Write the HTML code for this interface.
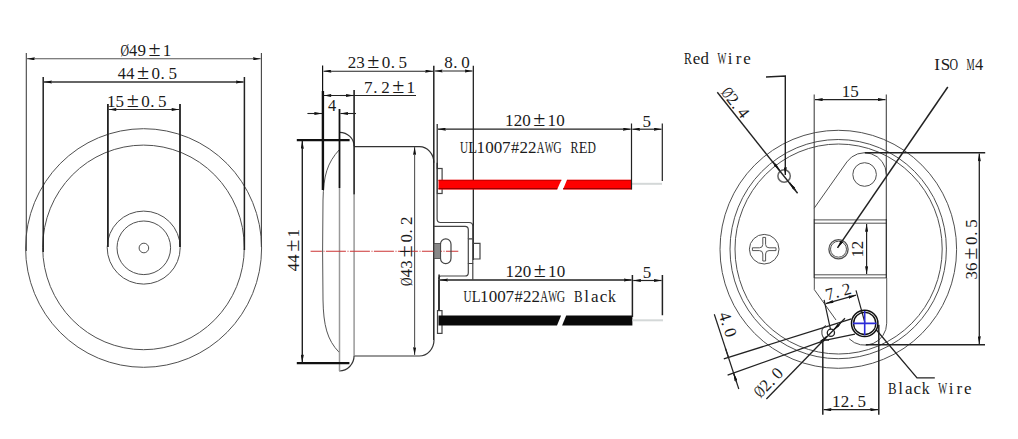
<!DOCTYPE html>
<html><head><meta charset="utf-8">
<style>
html,body{margin:0;padding:0;background:#fff;width:1018px;height:439px;overflow:hidden}
svg{display:block}
text{font-family:"Liberation Serif",serif}
</style></head>
<body>
<svg width="1018" height="439" viewBox="0 0 1018 439">
<defs>
<marker id="ar" viewBox="0 0 8 3.2" refX="8" refY="1.6" markerWidth="8" markerHeight="3.2" markerUnits="userSpaceOnUse" orient="auto-start-reverse">
<path d="M0 0 L8 1.6 L0 3.2 L1 1.6 Z" fill="#111"/>
</marker>
</defs>
<rect width="1018" height="439" fill="#fff"/>


<!-- ============ LEFT VIEW ============ -->
<g fill="none" stroke="#505050" stroke-width="1">
<ellipse cx="143.6" cy="248" rx="118" ry="119.3"/>
<ellipse cx="143.5" cy="247.4" rx="100.8" ry="102.3"/>
<circle cx="143.7" cy="247.6" r="36.5"/>
<circle cx="143.8" cy="247.8" r="26.8"/>
<circle cx="143.9" cy="248" r="4.8"/>
</g>
<g fill="none" stroke="#222" stroke-width="1.3">
<path d="M26.3 53 V251 M261.4 53 V247" stroke="#444" stroke-width="1.1"/>
<path d="M43.2 77 V252 M244.4 77 V250" stroke-width="1.5"/>
<path d="M107.9 104 V247 M180 104 V247" stroke-width="1.8"/>
</g>
<g fill="none" stroke="#333" stroke-width="1.1">
<path d="M27 58.8 H260.7" marker-start="url(#ar)" marker-end="url(#ar)" stroke="#555"/>
<path d="M44 82 H243.6" marker-start="url(#ar)" marker-end="url(#ar)" stroke-width="1.5"/>
<path d="M108.6 109.5 H179.3" marker-start="url(#ar)" marker-end="url(#ar)"/>
</g>

<!-- ============ MIDDLE VIEW ============ -->
<!-- body outline -->
<g fill="none" stroke="#333" stroke-width="1.2">
<path d="M354.2 146.7 H419.5 A14.5 16 0 0 1 433.8 162.7"/>
<path d="M354.2 356 H419.2 A14.8 16 0 0 0 434 340"/>
<path d="M339.6 132.3 A14.5 14 0 0 1 354.1 146.3"/>
<path d="M339.2 371 A14.8 15.4 0 0 0 354.1 355.6"/>
<path d="M339.5 149.5 C327 163, 323.5 176, 323 200 L322.6 251 L323 300 C323.5 325, 327 340, 339.3 352.5" stroke="#555" stroke-width="1"/>
<path d="M339.5 188 V371" stroke="#999" stroke-width="1.5"/>
<path d="M354.1 194.6 V355.6" stroke="#999" stroke-width="1.5"/>
<path d="M354.1 90 V194.6" stroke="#222" stroke-width="1.6"/>
<path d="M433.8 65.7 V340" stroke="#222" stroke-width="1.5"/>
</g>
<!-- dark ext lines -->
<g fill="none" stroke="#111">
<path d="M322.6 65.5 V91" stroke-width="1.2"/>
<path d="M322.9 91 V190" stroke-width="2.4"/>
<path d="M339.5 109 V188" stroke-width="1.8"/>
<path d="M296.8 140.1 H349.6 M296.8 363.2 H349.4" stroke-width="2.2"/>
<path d="M473.3 65.7 V260" stroke-width="1.2"/>
</g>
<!-- dims -->
<g fill="none" stroke="#222" stroke-width="1.1">
<path d="M323.5 71.2 H433" marker-start="url(#ar)" marker-end="url(#ar)"/>
<path d="M434.6 71 H472.5" marker-start="url(#ar)" marker-end="url(#ar)"/>
<path d="M416 95.5 H323.5" marker-end="url(#ar)"/>
<path d="M340 95.5 H353.6" marker-end="url(#ar)"/>
<path d="M307.4 113.5 H322" marker-end="url(#ar)"/>
<path d="M356 113.5 H340.4" marker-end="url(#ar)"/>
<path d="M302.3 141 V362.4" marker-start="url(#ar)" marker-end="url(#ar)" stroke-width="1.4"/>
<path d="M414.6 147 V355" marker-start="url(#ar)" marker-end="url(#ar)" stroke="#555"/>
</g>
<!-- centerline -->
<path d="M310.6 251.2 H458.3" stroke="#cc3535" stroke-width="1.1" stroke-dasharray="20 1.6 1 1.4" stroke-dashoffset="8.7" fill="none"/>
<!-- bracket -->
<g fill="none" stroke="#444" stroke-width="1.2">
<path d="M437.1 162.8 V219 Q437.1 222.5 440.6 222.5 H469 Q472.8 222.5 472.8 226.3 V238.8"/>
<path d="M434 226.4 H465 Q468.3 226.4 468.3 229.7 V238.8"/>
<path d="M468.3 238.8 H472.8 V263.5 H468.3 Z"/>
<path d="M472.8 243.4 H480 V259 H472.8"/>
<path d="M468.3 263.5 V272.7 Q468.3 276 465 276 H441 Q438.7 276 438.7 279"/>
<path d="M472.8 263.5 V279.6"/>
<rect x="437.3" y="168.5" width="4.8" height="25" />
<rect x="437.5" y="310.6" width="4.5" height="22.8" />
<rect x="440.5" y="238.8" width="10.5" height="24.9" rx="5.2" ry="5.5"/>
<path d="M438.7 279.6 V310.6"/>
</g>
<rect x="434" y="243.5" width="6.5" height="15" fill="#888" stroke="#444" stroke-width="0.8"/>
<!-- red wire -->
<g>
<path d="M438.5 179.8 H561.5 L557.1 189.4 H438.5 Z" fill="#ff0000"/>
<path d="M567 179.8 H631.5 V189.4 H563 Z" fill="#ff0000"/>
<path d="M438.5 180.4 H561.3 M567 180.4 H631.5" stroke="#c80000" stroke-width="1" fill="none"/>
<path d="M438.5 188.7 H557.3 M563.2 188.7 H631.5" stroke="#9a0000" stroke-width="1.3" fill="none"/>
<path d="M632 183.8 H662" stroke="#d4d8d8" stroke-width="2"/>
</g>
<!-- black wire -->
<g>
<path d="M438.5 315.6 H561.1 L557 325.5 H438.5 Z" fill="#0a0a0a"/>
<path d="M566.2 315.6 H632.4 V325.5 H562.1 Z" fill="#0a0a0a"/>
<path d="M632.4 320.3 H663" stroke="#d4d8d8" stroke-width="2"/>
</g>
<!-- wire dims -->
<g fill="none" stroke="#222" stroke-width="1.2">
<path d="M437.2 124 V168.5 M631.5 123.6 V189.5 M662.3 123.6 V180.9"/>
<path d="M438 129.2 H630.7" marker-start="url(#ar)" marker-end="url(#ar)"/>
<path d="M632.3 129.2 H661.5" marker-start="url(#ar)" marker-end="url(#ar)"/>
<path d="M439.1 274.6 V310.6 M632.4 275 V317 M662.4 275 V315.2" stroke-width="1.5"/>
<path d="M440 280 H631.6" marker-start="url(#ar)" marker-end="url(#ar)" stroke-width="1.5"/>
<path d="M633.2 280.5 H661.6" marker-start="url(#ar)" marker-end="url(#ar)"/>
</g>

<!-- ============ RIGHT VIEW ============ -->
<g fill="none" stroke="#505050" stroke-width="1">
<ellipse cx="838.3" cy="249.3" rx="118.3" ry="119"/>
<ellipse cx="838.2" cy="249.1" rx="108.2" ry="109.6"/>
<ellipse cx="838.6" cy="249" rx="103.6" ry="105"/>
<circle cx="764.2" cy="249.2" r="14.8"/>
<path d="M762.80 237.40 H765.60 V244.40 A3.4 3.4 0 0 0 769.00 247.80 H776.00 V250.60 H769.00 A3.4 3.4 0 0 0 765.60 254.00 V261.00 H762.80 V254.00 A3.4 3.4 0 0 0 759.40 250.60 H752.40 V247.80 H759.40 A3.4 3.4 0 0 0 762.80 244.40 Z" stroke="#555"/>
<circle cx="784.1" cy="176" r="6.2" stroke="#666" stroke-width="1.5"/>
<!-- tab -->
<path d="M814.2 208.2 L846.9 161.9 A21.7 21.7 0 0 1 886.3 174.4"/>
<circle cx="864.6" cy="174.5" r="11.8"/>
<path d="M814.2 219.9 H886.2 M814.2 223.2 H886.2 M814.2 274.8 H886.2 M814.2 277.9 H886.2"/>
<circle cx="838.5" cy="249.2" r="9.6" stroke-width="1.3"/>
<circle cx="838.5" cy="249.2" r="8" />
<!-- bracket lower -->
<path d="M814.3 278 V289.6 L836 320"/>
<path d="M886.7 278 V323.2 A22 22 0 0 1 849.2 338.8"/>
<!-- strip -->
<path d="M830.9 332.7 m-3.6 0 a3.6 3.6 0 1 0 7.2 0 a3.6 3.6 0 1 0 -7.2 0" stroke="#222" stroke-width="1.3"/>
<path d="M826 325.5 A8 8 0 0 0 829 340.5" stroke-width="1.1"/>
</g>
<g fill="none" stroke="#222" stroke-width="1.2">
<path d="M814.2 94.6 V219 M886.3 94.6 V219" stroke="#444" stroke-width="1.1"/>
<path d="M814.2 219 V278 M886.3 219 V278"/>
<path d="M815 99.6 H885.5" marker-start="url(#ar)" marker-end="url(#ar)"/>
<path d="M866.6 224 V274" marker-start="url(#ar)" marker-end="url(#ar)"/>
<path d="M947.8 87 L837.5 247.8" marker-end="url(#ar)" stroke-width="1.5"/>
<path d="M864.7 152.7 H985.2 M865.8 344.8 H985" stroke-width="1.6"/>
<path d="M979.3 153.5 V344" marker-start="url(#ar)" marker-end="url(#ar)" stroke-width="1.3"/>
<path d="M766 77 L785.3 76 V175" stroke-width="1.4" marker-end="url(#ar)"/>
<path d="M717.3 92.3 L797.6 193.3" stroke-width="1.4"/>
<path d="M773 162 L779.5 170.3" marker-end="url(#ar)" stroke-width="1.4"/>
<path d="M795.5 190.3 L789.5 182.7" marker-end="url(#ar)" stroke-width="1.4"/>
<!-- strip ext lines -->
<path d="M723.8 358.9 L851.4 318.8" stroke-width="1.3"/>
<path d="M727.6 375.2 L824.7 340.4 L855 334.2" stroke-width="1.3"/>
<!-- 4.0 dim line -->
<path d="M714.3 314.3 L738.8 389" stroke-width="1.2"/>
<path d="M725.4 348.1 L728.4 357.3 M736.6 382.3 L733.6 373.2" stroke-width="1.2" marker-end="url(#ar)"/>
<!-- Ø2.0 leader -->
<path d="M766.4 399 L845 318.3" stroke-width="1.3"/>
<path d="M820 343.2 L826.8 336.3" stroke-width="1.3" marker-end="url(#ar)"/>
<path d="M840.5 323 L833.4 330.2" stroke-width="1.2" marker-end="url(#ar)"/>
<!-- 7.2 -->
<path d="M824.1 299.9 L830.5 329.4 M856 290.4 L864.8 322.3" stroke-width="1.2"/>
<path d="M825.7 303.6 L856 295.2" marker-start="url(#ar)" marker-end="url(#ar)" stroke-width="1.2"/>
<!-- 12.5 -->
<path d="M822.8 339 V414.7 M878.8 324.7 V414.7" stroke-width="1.5"/>
<path d="M823.6 409.7 H878" marker-start="url(#ar)" marker-end="url(#ar)"/>
<!-- black wire leader -->
<path d="M876 329.5 L917 377.8 H934.8" stroke-width="1.3"/>
</g>
<!-- wire hole -->
<circle cx="864.7" cy="323.4" r="13.2" fill="none" stroke="#111" stroke-width="1.5"/>
<circle cx="864.7" cy="323.4" r="11.1" fill="none" stroke="#111" stroke-width="1.3"/>
<path d="M852.8 323.4 H876.5 M864.7 311.1 V335.2" stroke="#2b2bd8" stroke-width="1.6" fill="none"/>
<g transform="translate(120.40,55.90)" fill="#1a1a1a"><text transform="translate(4.25,0) scale(0.698,1)" x="-6.14" font-size="17">Ø</text><text transform="translate(12.75,0) scale(0.962,1)" x="-4.28" font-size="17">4</text><text transform="translate(21.25,0) scale(1.000,1)" x="-4.18" font-size="17">9</text><text transform="translate(34.00,0) scale(1.000,1)" x="-6.03" font-size="22">±</text><text transform="translate(46.75,0) scale(1.000,1)" x="-4.49" font-size="17">1</text></g>
<g transform="translate(117.60,79.00)" fill="#1a1a1a"><text transform="translate(4.25,0) scale(0.962,1)" x="-4.28" font-size="17">4</text><text transform="translate(12.75,0) scale(0.962,1)" x="-4.28" font-size="17">4</text><text transform="translate(25.50,0) scale(1.000,1)" x="-6.03" font-size="22">±</text><text transform="translate(38.25,0) scale(1.000,1)" x="-4.25" font-size="17">0</text><text transform="translate(45.05,0) scale(1.000,1)" x="-2.12" font-size="17">.</text><text transform="translate(55.25,0) scale(1.000,1)" x="-4.41" font-size="17">5</text></g>
<g transform="translate(107.20,106.90)" fill="#1a1a1a"><text transform="translate(4.25,0) scale(1.000,1)" x="-4.49" font-size="17">1</text><text transform="translate(12.75,0) scale(1.000,1)" x="-4.41" font-size="17">5</text><text transform="translate(25.50,0) scale(1.000,1)" x="-6.03" font-size="22">±</text><text transform="translate(38.25,0) scale(1.000,1)" x="-4.25" font-size="17">0</text><text transform="translate(45.05,0) scale(1.000,1)" x="-2.12" font-size="17">.</text><text transform="translate(55.25,0) scale(1.000,1)" x="-4.41" font-size="17">5</text></g>
<g transform="translate(347.70,68.10)" fill="#1a1a1a"><text transform="translate(4.25,0) scale(1.000,1)" x="-4.15" font-size="17">2</text><text transform="translate(12.75,0) scale(1.000,1)" x="-4.32" font-size="17">3</text><text transform="translate(25.50,0) scale(1.000,1)" x="-6.03" font-size="22">±</text><text transform="translate(38.25,0) scale(1.000,1)" x="-4.25" font-size="17">0</text><text transform="translate(45.05,0) scale(1.000,1)" x="-2.12" font-size="17">.</text><text transform="translate(55.25,0) scale(1.000,1)" x="-4.41" font-size="17">5</text></g>
<g transform="translate(444.20,68.10)" fill="#1a1a1a"><text transform="translate(4.25,0) scale(1.000,1)" x="-4.25" font-size="17">8</text><text transform="translate(11.05,0) scale(1.000,1)" x="-2.12" font-size="17">.</text><text transform="translate(21.25,0) scale(1.000,1)" x="-4.25" font-size="17">0</text></g>
<g transform="translate(364.20,92.50)" fill="#1a1a1a"><text transform="translate(4.25,0) scale(1.000,1)" x="-4.57" font-size="17">7</text><text transform="translate(11.05,0) scale(1.000,1)" x="-2.12" font-size="17">.</text><text transform="translate(21.25,0) scale(1.000,1)" x="-4.15" font-size="17">2</text><text transform="translate(34.00,0) scale(1.000,1)" x="-6.03" font-size="22">±</text><text transform="translate(46.75,0) scale(1.000,1)" x="-4.49" font-size="17">1</text></g>
<g transform="translate(327.80,111.00)" fill="#1a1a1a"><text transform="translate(4.25,0) scale(0.962,1)" x="-4.28" font-size="17">4</text></g>
<g transform="translate(299.20,271.30) rotate(-90)" fill="#1a1a1a"><text transform="translate(4.25,0) scale(0.962,1)" x="-4.28" font-size="17">4</text><text transform="translate(12.75,0) scale(0.962,1)" x="-4.28" font-size="17">4</text><text transform="translate(25.50,0) scale(1.000,1)" x="-6.03" font-size="22">±</text><text transform="translate(38.25,0) scale(1.000,1)" x="-4.49" font-size="17">1</text></g>
<g transform="translate(412.20,286.20) rotate(-90)" fill="#1a1a1a"><text transform="translate(4.35,0) scale(0.698,1)" x="-6.14" font-size="17">Ø</text><text transform="translate(13.05,0) scale(0.962,1)" x="-4.28" font-size="17">4</text><text transform="translate(21.75,0) scale(1.000,1)" x="-4.32" font-size="17">3</text><text transform="translate(34.80,0) scale(1.000,1)" x="-6.03" font-size="22">±</text><text transform="translate(47.85,0) scale(1.000,1)" x="-4.25" font-size="17">0</text><text transform="translate(54.81,0) scale(1.000,1)" x="-2.12" font-size="17">.</text><text transform="translate(65.25,0) scale(1.000,1)" x="-4.15" font-size="17">2</text></g>
<g transform="translate(505.20,126.30)" fill="#1a1a1a"><text transform="translate(4.25,0) scale(1.000,1)" x="-4.49" font-size="17">1</text><text transform="translate(12.75,0) scale(1.000,1)" x="-4.15" font-size="17">2</text><text transform="translate(21.25,0) scale(1.000,1)" x="-4.25" font-size="17">0</text><text transform="translate(34.00,0) scale(1.000,1)" x="-6.03" font-size="22">±</text><text transform="translate(46.75,0) scale(1.000,1)" x="-4.49" font-size="17">1</text><text transform="translate(55.25,0) scale(1.000,1)" x="-4.25" font-size="17">0</text></g>
<g transform="translate(642.70,126.90)" fill="#1a1a1a"><text transform="translate(4.25,0) scale(1.000,1)" x="-4.41" font-size="17">5</text></g>
<g transform="translate(459.80,152.60)" fill="#1a1a1a"><text transform="translate(4.25,0) scale(0.657,1)" x="-6.14" font-size="17">U</text><text transform="translate(12.75,0) scale(0.856,1)" x="-4.93" font-size="17">L</text><text transform="translate(21.25,0) scale(1.000,1)" x="-4.49" font-size="17">1</text><text transform="translate(29.75,0) scale(1.000,1)" x="-4.25" font-size="17">0</text><text transform="translate(38.25,0) scale(1.000,1)" x="-4.25" font-size="17">0</text><text transform="translate(46.75,0) scale(1.000,1)" x="-4.57" font-size="17">7</text><text transform="translate(55.25,0) scale(0.964,1)" x="-4.25" font-size="17">#</text><text transform="translate(63.75,0) scale(1.000,1)" x="-4.15" font-size="17">2</text><text transform="translate(72.25,0) scale(1.000,1)" x="-4.15" font-size="17">2</text><text transform="translate(80.75,0) scale(0.634,1)" x="-6.16" font-size="17">A</text><text transform="translate(89.25,0) scale(0.550,1)" x="-8.01" font-size="17">W</text><text transform="translate(97.75,0) scale(0.688,1)" x="-6.22" font-size="17">G</text><text transform="translate(114.75,0) scale(0.702,1)" x="-5.90" font-size="17">R</text><text transform="translate(123.25,0) scale(0.840,1)" x="-5.01" font-size="17">E</text><text transform="translate(131.75,0) scale(0.684,1)" x="-6.04" font-size="17">D</text></g>
<g transform="translate(505.70,277.10)" fill="#1a1a1a"><text transform="translate(4.25,0) scale(1.000,1)" x="-4.49" font-size="17">1</text><text transform="translate(12.75,0) scale(1.000,1)" x="-4.15" font-size="17">2</text><text transform="translate(21.25,0) scale(1.000,1)" x="-4.25" font-size="17">0</text><text transform="translate(34.00,0) scale(1.000,1)" x="-6.03" font-size="22">±</text><text transform="translate(46.75,0) scale(1.000,1)" x="-4.49" font-size="17">1</text><text transform="translate(55.25,0) scale(1.000,1)" x="-4.25" font-size="17">0</text></g>
<g transform="translate(642.90,277.80)" fill="#1a1a1a"><text transform="translate(4.25,0) scale(1.000,1)" x="-4.41" font-size="17">5</text></g>
<g transform="translate(463.30,302.00)" fill="#1a1a1a"><text transform="translate(4.25,0) scale(0.657,1)" x="-6.14" font-size="17">U</text><text transform="translate(12.75,0) scale(0.856,1)" x="-4.93" font-size="17">L</text><text transform="translate(21.25,0) scale(1.000,1)" x="-4.49" font-size="17">1</text><text transform="translate(29.75,0) scale(1.000,1)" x="-4.25" font-size="17">0</text><text transform="translate(38.25,0) scale(1.000,1)" x="-4.25" font-size="17">0</text><text transform="translate(46.75,0) scale(1.000,1)" x="-4.57" font-size="17">7</text><text transform="translate(55.25,0) scale(0.964,1)" x="-4.25" font-size="17">#</text><text transform="translate(63.75,0) scale(1.000,1)" x="-4.15" font-size="17">2</text><text transform="translate(72.25,0) scale(1.000,1)" x="-4.15" font-size="17">2</text><text transform="translate(80.75,0) scale(0.634,1)" x="-6.16" font-size="17">A</text><text transform="translate(89.25,0) scale(0.550,1)" x="-8.01" font-size="17">W</text><text transform="translate(97.75,0) scale(0.688,1)" x="-6.22" font-size="17">G</text><text transform="translate(114.75,0) scale(0.759,1)" x="-5.50" font-size="17">B</text><text transform="translate(123.25,0) scale(1.000,1)" x="-2.36" font-size="17">l</text><text transform="translate(131.75,0) scale(1.000,1)" x="-3.96" font-size="17">a</text><text transform="translate(140.25,0) scale(1.000,1)" x="-3.83" font-size="17">c</text><text transform="translate(148.75,0) scale(0.930,1)" x="-4.41" font-size="17">k</text></g>
<g transform="translate(684.00,63.70)" fill="#1a1a1a"><text transform="translate(4.20,0) scale(0.702,1)" x="-5.90" font-size="17">R</text><text transform="translate(12.60,0) scale(1.000,1)" x="-3.81" font-size="17">e</text><text transform="translate(21.00,0) scale(0.990,1)" x="-4.45" font-size="17">d</text><text transform="translate(37.80,0) scale(0.550,1)" x="-8.01" font-size="17">W</text><text transform="translate(46.20,0) scale(1.000,1)" x="-2.38" font-size="17">i</text><text transform="translate(54.60,0) scale(1.000,1)" x="-2.93" font-size="17">r</text><text transform="translate(63.00,0) scale(1.000,1)" x="-3.81" font-size="17">e</text></g>
<g transform="translate(932.80,69.50)" fill="#1a1a1a"><text transform="translate(4.20,0) scale(1.000,1)" x="-2.84" font-size="17">I</text><text transform="translate(12.60,0) scale(1.000,1)" x="-4.77" font-size="17">S</text><text transform="translate(21.00,0) scale(0.698,1)" x="-6.14" font-size="17">O</text><text transform="translate(37.80,0) scale(0.538,1)" x="-7.55" font-size="17">M</text><text transform="translate(46.20,0) scale(0.962,1)" x="-4.28" font-size="17">4</text></g>
<g transform="translate(842.00,97.30)" fill="#1a1a1a"><text transform="translate(4.25,0) scale(1.000,1)" x="-4.49" font-size="17">1</text><text transform="translate(12.75,0) scale(1.000,1)" x="-4.41" font-size="17">5</text></g>
<g transform="translate(863.20,257.00) rotate(-90)" fill="#1a1a1a"><text transform="translate(4.00,0) scale(1.000,1)" x="-4.49" font-size="17">1</text><text transform="translate(12.00,0) scale(1.000,1)" x="-4.15" font-size="17">2</text></g>
<g transform="translate(976.50,279.60) rotate(-90)" fill="#1a1a1a"><text transform="translate(4.33,0) scale(1.000,1)" x="-4.32" font-size="17">3</text><text transform="translate(12.98,0) scale(1.000,1)" x="-4.36" font-size="17">6</text><text transform="translate(25.95,0) scale(1.000,1)" x="-6.03" font-size="22">±</text><text transform="translate(38.93,0) scale(1.000,1)" x="-4.25" font-size="17">0</text><text transform="translate(45.84,0) scale(1.000,1)" x="-2.12" font-size="17">.</text><text transform="translate(56.23,0) scale(1.000,1)" x="-4.41" font-size="17">5</text></g>
<g transform="translate(720.50,92.80) rotate(51.6)" fill="#1a1a1a"><text transform="translate(4.25,0) scale(0.698,1)" x="-6.14" font-size="17">Ø</text><text transform="translate(12.75,0) scale(1.000,1)" x="-4.15" font-size="17">2</text><text transform="translate(19.55,0) scale(1.000,1)" x="-2.12" font-size="17">.</text><text transform="translate(29.75,0) scale(0.962,1)" x="-4.28" font-size="17">4</text></g>
<g transform="translate(827.50,300.30) rotate(-15.5)" fill="#1a1a1a"><text transform="translate(4.25,0) scale(1.000,1)" x="-4.57" font-size="17">7</text><text transform="translate(11.05,0) scale(1.000,1)" x="-2.12" font-size="17">.</text><text transform="translate(21.25,0) scale(1.000,1)" x="-4.15" font-size="17">2</text></g>
<g transform="translate(718.50,314.00) rotate(71.8)" fill="#1a1a1a"><text transform="translate(4.25,0) scale(0.962,1)" x="-4.28" font-size="17">4</text><text transform="translate(11.05,0) scale(1.000,1)" x="-2.12" font-size="17">.</text><text transform="translate(21.25,0) scale(1.000,1)" x="-4.25" font-size="17">0</text></g>
<g transform="translate(760.50,398.50) rotate(-45.5)" fill="#1a1a1a"><text transform="translate(4.25,0) scale(0.698,1)" x="-6.14" font-size="17">Ø</text><text transform="translate(12.75,0) scale(1.000,1)" x="-4.15" font-size="17">2</text><text transform="translate(19.55,0) scale(1.000,1)" x="-2.12" font-size="17">.</text><text transform="translate(29.75,0) scale(1.000,1)" x="-4.25" font-size="17">0</text></g>
<g transform="translate(832.20,406.80)" fill="#1a1a1a"><text transform="translate(4.25,0) scale(1.000,1)" x="-4.49" font-size="17">1</text><text transform="translate(12.75,0) scale(1.000,1)" x="-4.15" font-size="17">2</text><text transform="translate(19.55,0) scale(1.000,1)" x="-2.12" font-size="17">.</text><text transform="translate(29.75,0) scale(1.000,1)" x="-4.41" font-size="17">5</text></g>
<g transform="translate(888.00,394.20)" fill="#1a1a1a"><text transform="translate(4.20,0) scale(0.759,1)" x="-5.50" font-size="17">B</text><text transform="translate(12.60,0) scale(1.000,1)" x="-2.36" font-size="17">l</text><text transform="translate(21.00,0) scale(1.000,1)" x="-3.96" font-size="17">a</text><text transform="translate(29.40,0) scale(1.000,1)" x="-3.83" font-size="17">c</text><text transform="translate(37.80,0) scale(0.930,1)" x="-4.41" font-size="17">k</text><text transform="translate(54.60,0) scale(0.550,1)" x="-8.01" font-size="17">W</text><text transform="translate(63.00,0) scale(1.000,1)" x="-2.38" font-size="17">i</text><text transform="translate(71.40,0) scale(1.000,1)" x="-2.93" font-size="17">r</text><text transform="translate(79.80,0) scale(1.000,1)" x="-3.81" font-size="17">e</text></g>
</svg>
</body></html>
